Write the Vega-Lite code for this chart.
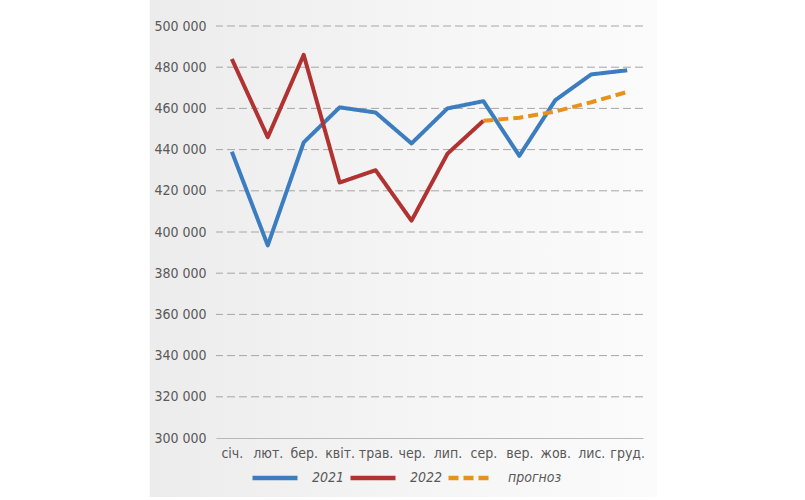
{
  "$schema": "https://vega.github.io/schema/vega-lite/v6.json",
  "autosize": {"type": "none"},
  "width": 427,
  "height": 412,
  "padding": {"left": 216, "top": 26, "right": 162, "bottom": 62},
  "background": "white",
  "datasets": {
    "sales": [
      {"month": "січ.", "series": "2021", "value": 439000},
      {"month": "лют.", "series": "2021", "value": 393500},
      {"month": "бер.", "series": "2021", "value": 443500},
      {"month": "квіт.", "series": "2021", "value": 460500},
      {"month": "трав.", "series": "2021", "value": 458000},
      {"month": "чер.", "series": "2021", "value": 443000},
      {"month": "лип.", "series": "2021", "value": 460000},
      {"month": "сер.", "series": "2021", "value": 463500},
      {"month": "вер.", "series": "2021", "value": 437000},
      {"month": "жов.", "series": "2021", "value": 464000},
      {"month": "лис.", "series": "2021", "value": 476500},
      {"month": "груд.", "series": "2021", "value": 478500},
      {"month": "січ.", "series": "2022", "value": 484000},
      {"month": "лют.", "series": "2022", "value": 446000},
      {"month": "бер.", "series": "2022", "value": 486000},
      {"month": "квіт.", "series": "2022", "value": 424000},
      {"month": "трав.", "series": "2022", "value": 430000},
      {"month": "чер.", "series": "2022", "value": 405500},
      {"month": "лип.", "series": "2022", "value": 438000},
      {"month": "сер.", "series": "2022", "value": 454000},
      {"month": "сер.", "series": "прогноз", "value": 454000},
      {"month": "вер.", "series": "прогноз", "value": 455500},
      {"month": "жов.", "series": "прогноз", "value": 458500},
      {"month": "лис.", "series": "прогноз", "value": 463000},
      {"month": "груд.", "series": "прогноз", "value": 468000}
    ],
    "grid": [
      {"level": 320000}, {"level": 340000}, {"level": 360000}, {"level": 380000},
      {"level": 400000}, {"level": 420000}, {"level": 440000}, {"level": 460000},
      {"level": 480000}, {"level": 500000}
    ]
  },
  "layer": [
    {
      "data": {"values": [{}]},
      "mark": {
        "type": "rect",
        "clip": false,
        "color": {
          "gradient": "linear",
          "x1": 0, "y1": 0, "x2": 1, "y2": 0,
          "stops": [
            {"offset": 0, "color": "#ececec"},
            {"offset": 0.6, "color": "#f6f6f6"},
            {"offset": 1, "color": "#fbfbfb"}
          ]
        }
      },
      "encoding": {
        "x": {"datum": -0.155, "type": "quantitative", "scale": {"domain": [0, 1], "nice": false, "zero": false}, "axis": null},
        "x2": {"datum": 1.033},
        "y": {"datum": 512600, "type": "quantitative", "title": null},
        "y2": {"datum": 271400}
      }
    },
    {
      "data": {"name": "grid"},
      "mark": {"type": "rule", "color": "#a6a6a6", "strokeWidth": 1, "strokeDash": [8, 4]},
      "encoding": {
        "y": {"field": "level", "type": "quantitative", "title": null}
      }
    },
    {
      "data": {"name": "sales"},
      "mark": {"type": "line", "strokeWidth": 4, "strokeJoin": "round"},
      "encoding": {
        "x": {
          "field": "month",
          "type": "ordinal",
          "sort": ["січ.", "лют.", "бер.", "квіт.", "трав.", "чер.", "лип.", "сер.", "вер.", "жов.", "лис.", "груд."],
          "scale": {"type": "point", "padding": 0.44},
          "axis": {
            "title": null,
            "labelAngle": 0,
            "labelFontSize": 14,
            "labelColor": "#595959",
            "labelPadding": 8,
            "ticks": false,
            "domain": true,
            "domainColor": "#b8b8b8",
            "domainWidth": 1.2,
            "grid": false,
            "zindex": 1
          }
        },
        "y": {
          "field": "value",
          "type": "quantitative",
          "title": null,
          "scale": {"domain": [300000, 500000], "nice": false, "zero": false},
          "axis": {
            "title": null,
            "values": [300000, 320000, 340000, 360000, 380000, 400000, 420000, 440000, 460000, 480000, 500000],
            "labelExpr": "replace(format(datum.value, ','), ',', ' ')",
            "labelFontSize": 14,
            "labelColor": "#595959",
            "labelPadding": 10,
            "ticks": false,
            "domain": false,
            "grid": false,
            "zindex": 1
          }
        },
        "color": {
          "field": "series",
          "type": "nominal",
          "scale": {"domain": ["2021", "2022", "прогноз"], "range": ["#3c7dc0", "#b03331", "#e8921c"]},
          "legend": {
            "title": null,
            "orient": "none",
            "legendX": 34,
            "legendY": 427,
            "direction": "horizontal",
            "symbolType": "stroke",
            "symbolSize": 2025,
            "symbolStrokeWidth": 4.5,
            "labelOffset": 12,
            "columnPadding": -4,
            "labelFontSize": 14,
            "labelFontStyle": "italic",
            "labelColor": "#595959",
            "zindex": 1
          }
        },
        "strokeDash": {
          "field": "series",
          "type": "nominal",
          "scale": {"domain": ["2021", "2022", "прогноз"], "range": [[1, 0], [1, 0], [10, 5]]},
          "legend": null
        }
      }
    }
  ],
  "resolve": {"scale": {"x": "independent"}},
  "config": {
    "font": "Liberation Sans Narrow, DejaVu Sans Condensed, sans-serif",
    "view": {"stroke": null}
  }
}
